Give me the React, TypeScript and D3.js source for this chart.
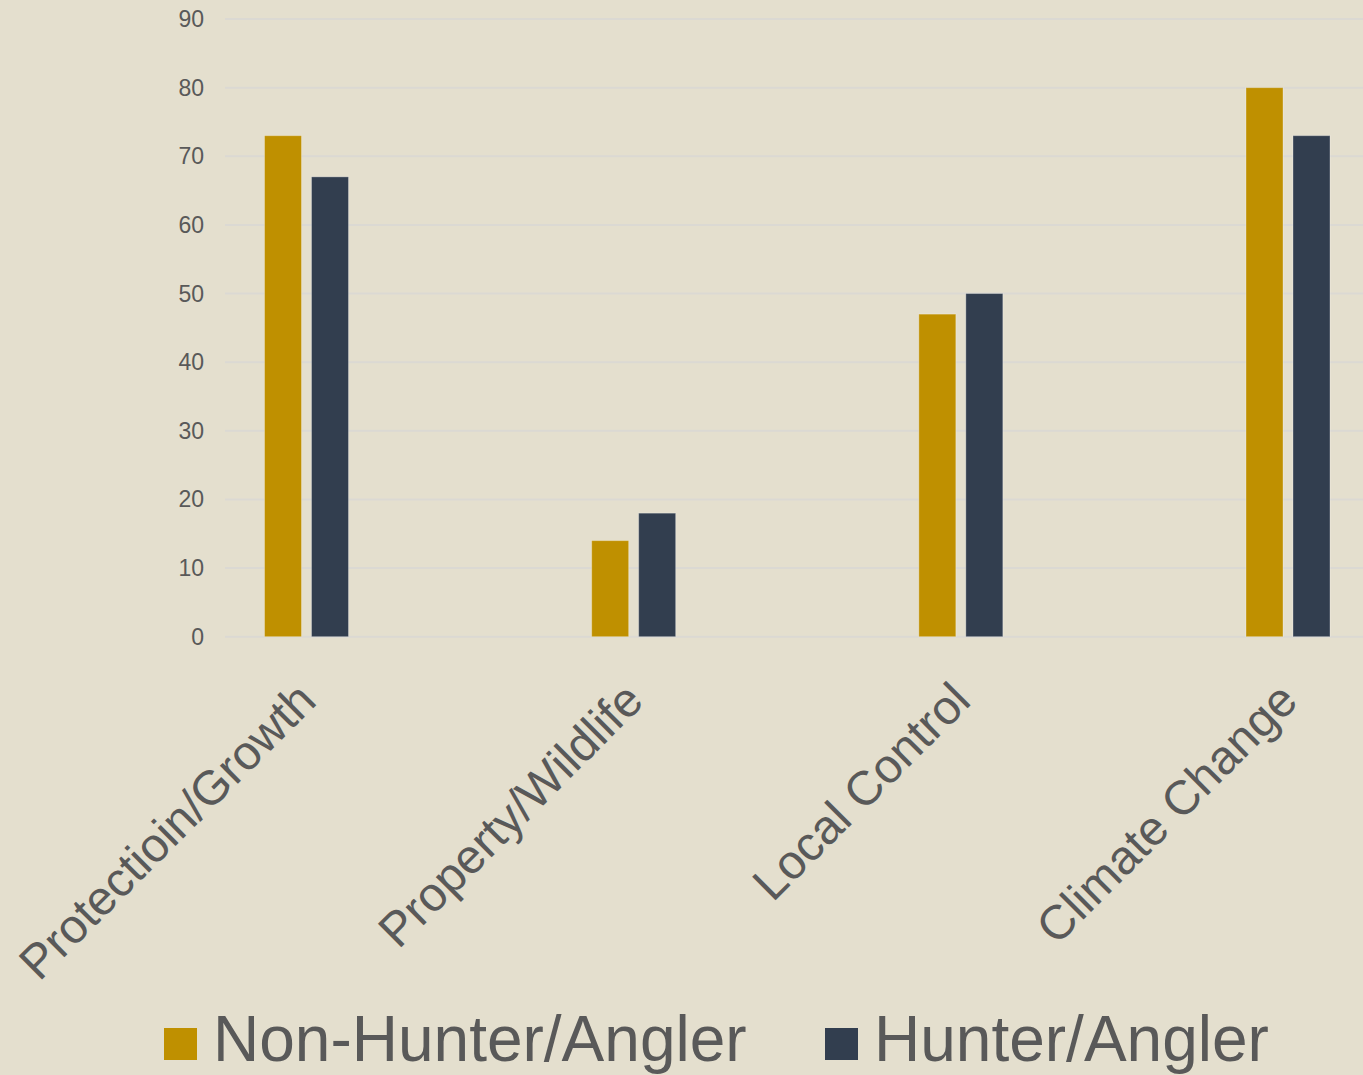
import React from "react";
import * as d3 from "d3";

const categories = ["Protectioin/Growth", "Property/Wildlife", "Local Control", "Climate Change"];
const seriesNames = ["Non-Hunter/Angler", "Hunter/Angler"];
const nonHunter = [73, 14, 47, 80];
const hunter = [67, 18, 50, 73];
const yTicks = [0, 10, 20, 30, 40, 50, 60, 70, 80, 90];
const colors = ["#BF9000", "#323E4F"];

const W = 1363;
const H = 1075;
const BG = "#E4DFCE";
const TEXT = "#595959";
const FONT = "'Liberation Sans', Arial, Helvetica, sans-serif";

export default function App() {
  const y = d3.scaleLinear().domain([0, 90]).range([636.7, 19]);
  const x = d3.scalePoint<string>().domain(categories).range([306.5, 1288]);
  const inner = d3.scaleBand<string>().domain(seriesNames).range([-42, 42]).paddingInner(10 / 47);
  const series = [nonHunter, hunter];

  return (
    <svg width={W} height={H} style={{ position: "absolute", left: 0, top: 0, display: "block" }}>
      <rect x={0} y={0} width={W} height={H} fill={BG} />
      {yTicks.map((t) => (
        <g key={t}>
          <line x1={225} x2={W} y1={y(t)} y2={y(t)} stroke="#DBD9D3" strokeWidth={2} />
          <text
            x={204}
            y={y(t)}
            dy="0.35em"
            textAnchor="end"
            fontFamily={FONT}
            fontSize={23}
            fill={TEXT}
          >
            {t}
          </text>
        </g>
      ))}
      {categories.map((c, i) => (
        <g key={c}>
          {seriesNames.map((s, j) => {
            const v = series[j][i];
            const bx = (x(c) as number) + (inner(s) as number);
            return (
              <rect
                key={s}
                x={bx}
                y={y(v)}
                width={inner.bandwidth()}
                height={y(0) - y(v)}
                fill={colors[j]}
                stroke="rgba(255,255,255,0.3)"
                strokeWidth={1}
              />
            );
          })}
          <text
            transform={`translate(${(x(c) as number) + 12},${703}) rotate(-45)`}
            textAnchor="end"
            fontFamily={FONT}
            fontSize={48}
            fill={TEXT}
          >
            {c}
          </text>
        </g>
      ))}
      {seriesNames.map((s, j) => {
        const lx = [164, 825][j];
        return (
          <g key={s}>
            <rect x={lx} y={1028} width={33} height={32} fill={colors[j]} />
            <text x={lx + 49} y={1061} fontFamily={FONT} fontSize={64} fill={TEXT}>
              {s}
            </text>
          </g>
        );
      })}
    </svg>
  );
}
